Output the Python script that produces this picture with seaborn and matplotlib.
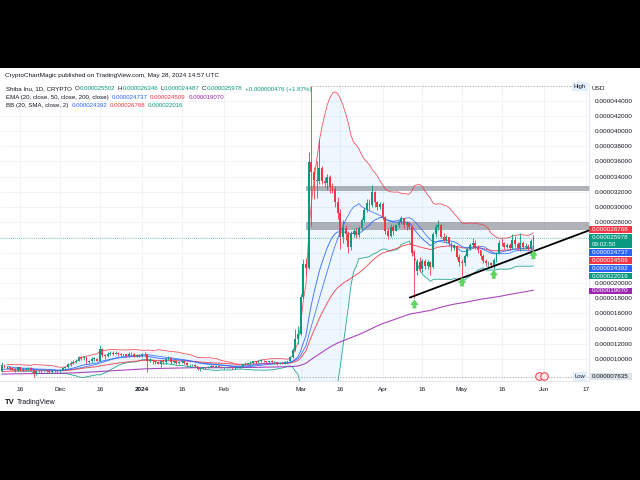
import numpy as np
import pandas as pd
import matplotlib
matplotlib.use("Agg")
import matplotlib.pyplot as plt
from matplotlib.patches import Rectangle
import matplotlib.transforms as mtransforms
import seaborn as sns

# ---------------- data (prices in units of 1e-6 USD), daily candles ----------------
start_date = "2023-11-09"
first_open = 8.4

nov_close = [9.2, 9.0, 8.9, 8.8, 8.7, 8.5, 8.9, 8.6, 8.6, 8.7, 8.8, 8.6, 8.0, 8.4, 8.4, 8.5, 8.5, 8.4, 8.3, 8.4, 8.4, 8.4]
nov_high = [9.6, 9.4, 9.1, 9.0, 8.9, 8.8, 9.0, 9.0, 8.8, 8.8, 8.9, 8.9, 8.7, 8.5, 8.6, 8.6, 8.6, 8.6, 8.5, 8.5, 8.5, 8.5]
nov_low = [8.3, 8.8, 8.7, 8.6, 8.5, 8.3, 8.4, 8.4, 8.4, 8.5, 8.6, 8.5, 7.635, 7.9, 8.3, 8.3, 8.4, 8.3, 8.1, 8.2, 8.3, 8.3]

dec_close = [8.6, 8.8, 8.9, 9.3, 9.5, 9.6, 9.8, 10.2, 10.1, 10.2, 9.6, 9.8, 10.0, 10.0, 9.8, 11.3, 10.5, 10.4, 10.7, 10.8, 10.7, 10.8, 10.6, 10.5, 10.6, 10.4, 10.7, 10.6, 10.4, 10.5, 10.4]
dec_high = [8.7, 8.9, 9.0, 9.5, 9.7, 9.9, 10.0, 10.4, 10.4, 10.4, 10.2, 9.9, 10.2, 10.3, 10.1, 11.8, 11.4, 10.6, 10.9, 11.0, 11.0, 11.0, 10.9, 10.8, 10.7, 10.7, 10.9, 10.9, 10.8, 10.6, 10.6]
dec_low = [8.3, 8.5, 8.7, 8.8, 9.1, 9.3, 9.5, 9.7, 9.9, 9.9, 9.3, 9.5, 9.6, 9.8, 9.7, 9.8, 10.3, 10.0, 10.3, 10.5, 10.5, 10.6, 10.4, 10.4, 10.4, 10.2, 10.3, 10.4, 10.3, 10.3, 10.3]

jan_close = [10.7, 10.6, 9.8, 9.9, 9.7, 9.6, 9.4, 9.8, 9.6, 10.0, 10.1, 9.6, 9.7, 9.5, 9.6, 9.7, 9.5, 9.2, 9.2, 9.2, 9.1, 8.7, 8.8, 8.9, 8.8, 9.0, 9.1, 9.0, 9.1, 9.0, 8.9]
jan_high = [10.8, 10.9, 10.7, 10.1, 10.0, 9.8, 9.7, 9.9, 9.9, 10.1, 10.4, 10.2, 9.8, 9.8, 9.7, 9.8, 9.7, 9.6, 9.3, 9.3, 9.3, 9.1, 8.9, 9.0, 8.9, 9.1, 9.2, 9.2, 9.2, 9.2, 9.1]
jan_low = [10.3, 10.4, 8.3, 9.6, 9.4, 9.4, 9.3, 8.9, 9.4, 9.3, 9.9, 9.4, 9.5, 9.4, 9.4, 9.5, 9.4, 9.1, 8.9, 9.1, 9.0, 8.6, 8.4, 8.7, 8.7, 8.8, 8.9, 8.9, 8.9, 8.9, 8.8]

feb_close = [8.9, 8.9, 8.9, 8.8, 8.8, 8.9, 9.0, 9.3, 9.4, 9.4, 9.5, 9.7, 9.6, 9.8, 9.8, 9.7, 9.6, 9.7, 9.6, 9.6, 9.4, 9.5, 9.4, 9.6, 9.7, 10.2, 11.2, 12.6, 13.3]
feb_high = [9.0, 9.0, 9.0, 8.9, 8.9, 9.0, 9.1, 9.4, 9.6, 9.5, 9.7, 9.8, 9.8, 9.9, 10.0, 9.9, 9.8, 9.8, 9.9, 9.8, 9.6, 9.6, 9.6, 9.7, 9.8, 10.4, 11.4, 13.9, 14.3]
feb_low = [8.7, 8.8, 8.8, 8.7, 8.7, 8.8, 8.8, 9.0, 9.2, 9.3, 9.4, 9.4, 9.4, 9.5, 9.6, 9.6, 9.4, 9.5, 9.5, 9.3, 9.2, 9.3, 9.3, 9.4, 9.5, 9.6, 10.1, 11.0, 12.0]

mar_close = [18.2, 22.5, 22.0, 35.9, 34.6, 33.6, 33.4, 35.1, 33.4, 33.1, 33.9, 32.6, 32.4, 30.6, 29.2, 26.0, 27.2, 26.4, 24.8, 26.4, 26.9, 26.3, 27.2, 28.3, 29.6, 30.5, 30.2, 32.0, 30.6, 30.0, 30.4]
mar_high = [18.6, 23.2, 23.3, 37.2, 45.9, 35.3, 36.0, 39.0, 35.4, 34.0, 34.3, 34.2, 33.2, 32.8, 31.3, 29.8, 28.3, 27.6, 26.8, 26.8, 27.3, 27.4, 27.5, 28.5, 30.0, 31.0, 31.0, 32.9, 32.1, 30.8, 30.7]
mar_low = [13.2, 18.0, 21.0, 21.8, 27.5, 31.0, 31.2, 33.0, 33.0, 32.6, 32.3, 31.8, 31.9, 30.0, 28.4, 24.5, 25.2, 25.6, 23.9, 24.3, 26.0, 25.9, 26.1, 27.0, 28.0, 29.4, 29.6, 30.0, 30.0, 29.6, 29.7]

apr_close = [28.7, 26.9, 26.2, 27.4, 26.9, 27.6, 28.0, 28.5, 27.6, 27.9, 27.4, 24.0, 21.6, 22.8, 21.8, 22.9, 22.2, 22.8, 22.1, 26.5, 27.4, 27.6, 26.1, 25.7, 26.0, 25.2, 24.6, 24.9, 23.4, 22.7]
apr_high = [30.6, 28.8, 27.3, 27.8, 27.6, 27.8, 28.3, 28.8, 28.6, 28.2, 28.1, 27.6, 24.4, 23.2, 23.4, 23.1, 23.1, 23.0, 22.9, 26.7, 27.8, 28.3, 27.8, 26.6, 26.3, 26.1, 25.4, 25.1, 25.0, 23.8]
apr_low = [28.3, 26.4, 25.8, 26.0, 26.3, 26.8, 27.4, 27.8, 27.2, 27.0, 27.1, 23.5, 18.0, 21.0, 21.4, 21.5, 21.9, 21.9, 21.0, 22.0, 26.1, 27.0, 25.9, 25.4, 25.3, 24.9, 24.2, 24.4, 23.1, 22.2]

may_close = [22.6, 23.6, 24.5, 25.0, 25.3, 24.8, 24.3, 23.5, 22.9, 22.6, 22.6, 22.4, 23.0, 23.9, 25.3, 25.2, 24.8, 25.0, 24.6, 25.7, 25.1, 24.6, 25.2, 24.7, 24.9, 24.5, 25.502, 25.978]
may_high = [23.2, 23.8, 24.7, 25.3, 25.9, 25.6, 25.0, 24.4, 23.8, 23.2, 22.9, 22.8, 23.3, 24.1, 25.6, 25.9, 25.4, 25.3, 25.2, 26.4, 26.2, 25.4, 26.6, 25.5, 25.2, 25.1, 25.8, 26.346]
may_low = [20.9, 22.3, 23.4, 24.3, 24.7, 24.5, 24.0, 23.2, 22.6, 22.3, 22.3, 22.2, 21.9, 22.7, 23.8, 24.9, 24.5, 24.6, 24.4, 24.5, 24.8, 24.3, 24.2, 24.5, 24.5, 24.3, 24.4, 24.487]

# indicator starting values read at the left edge of the chart
ema_seeds = {20: 8.55, 50: 8.3, 200: 8.0}

# drawings
zones = [(32.1, 32.8), (27.0, 28.05)]
zone_start = "2024-03-03"
trend_anchors = [("2024-04-11", 18.05), ("2024-06-18", 26.92)]
arrow_dates = ["2024-04-13", "2024-05-01", "2024-05-13", "2024-05-28"]
event_dates = ["2024-05-30", "2024-06-01"]

tick_dates = ["2023-11-16", "2023-12-01", "2023-12-16", "2024-01-01", "2024-01-16", "2024-02-01",
              "2024-03-01", "2024-03-16", "2024-04-01", "2024-04-16", "2024-05-01", "2024-05-16",
              "2024-06-01", "2024-06-17"]
tick_labels = ["16", "Dec", "16", "2024", "16", "Feb", "Mar", "16", "Apr", "16", "May", "16", "Jun", "17"]
price_ticks = [10, 12, 14, 16, 18, 20, 22, 24, 26, 28, 30, 32, 34, 36, 38, 40, 42, 44]
hidden_price_ticks = [22, 24, 26]   # covered by the value badges in the reference

ohlc_text = ["0.000025502", "0.000026346", "0.000024487", "0.000025978", "+0.000000476 (+1.87%)"]
ema_text = ["0.000024737", "0.000024509", "0.000019070"]
bb_text = ["0.000024392", "0.000026768", "0.000022016"]
low_text = "0.000007635"
countdown = "09:02:50"

# ---------------- build series ----------------
close = np.array(nov_close + dec_close + jan_close + feb_close + mar_close + apr_close + may_close)
high = np.array(nov_high + dec_high + jan_high + feb_high + mar_high + apr_high + may_high)
low = np.array(nov_low + dec_low + jan_low + feb_low + mar_low + apr_low + may_low)
n = len(close)
opens = np.r_[first_open, close[:-1]]
x = np.arange(n)
t0 = pd.Timestamp(start_date)


def day(d):
    return (pd.Timestamp(d) - t0).days


def ema(series, span, seed):
    return pd.Series(np.r_[seed, series]).ewm(span=span, adjust=False).mean().to_numpy()[1:]


ema20 = ema(close, 20, ema_seeds[20])
ema50 = ema(close, 50, ema_seeds[50])
ema200 = ema(close, 200, ema_seeds[200])
cs = pd.Series(close)
basis = cs.rolling(20, min_periods=3).mean().to_numpy()
sd = cs.rolling(20, min_periods=3).std(ddof=0).to_numpy()
upper = basis + 2 * sd
lower = basis - 2 * sd

# ---------------- style ----------------
sns.set_theme(style="white")
plt.rcParams['font.family'] = ['Liberation Sans', 'DejaVu Sans']

GREEN = "#089981"
RED = "#f23645"
BLUE = "#2962ff"
PURPLE = "#9c27b0"
DARK = "#131722"
GRID = "#f0f3fa"

W, H = 640, 480
fig = plt.figure(figsize=(6.4, 4.8), dpi=100, facecolor="white")


def fx(px):
    return px / W


def fy(py):
    return 1 - py / H


for top, bot in [(0, 68), (411, 480)]:
    fig.add_artist(Rectangle((0, fy(bot)), 1, (bot - top) / H, transform=fig.transFigure,
                             facecolor="black", edgecolor="none", zorder=0))

AX_L, AX_R, AX_T, AX_B = 0, 589, 83, 381
ax = fig.add_axes([fx(AX_L), fy(AX_B), (AX_R - AX_L) / W, (AX_B - AX_T) / H])
ax.set_facecolor("white")

# pixel scale of the original chart
PX_DAY = 2.645
X_JAN1 = 142.0
jan1 = day("2024-01-01")
xmin = jan1 - (X_JAN1 - AX_L) / PX_DAY
xmax = jan1 + (AX_R - X_JAN1) / PX_DAY
PX_UNIT = 7.6
Y10 = 359.0
ymin = 10 - (AX_B - Y10) / PX_UNIT
ymax = 10 + (Y10 - AX_T) / PX_UNIT
ax.set_xlim(xmin, xmax)
ax.set_ylim(ymin, ymax)

# grid
ax.set_axisbelow(True)
ax.grid(True, color=GRID, linewidth=0.6)

# BB fill
ax.fill_between(x, lower, upper, color="#2196f3", alpha=0.07, linewidth=0, zorder=1)

# zones
zs = day(zone_start)
for lo_, hi_ in zones:
    ax.fill_between([zs, xmax + 2], [lo_, lo_], [hi_, hi_], color="#9598a1", alpha=0.75,
                    linewidth=0, zorder=1.5)

# indicators (seaborn)
for series, colr, lw in [(upper, RED, 0.6), (lower, GREEN, 0.6), (basis, BLUE, 0.6),
                         (ema200, PURPLE, 0.8), (ema50, RED, 0.7), (ema20, BLUE, 0.7)]:
    sns.lineplot(x=x, y=series, ax=ax, color=colr, linewidth=lw, alpha=0.85, zorder=2)

# candles
up = close >= opens
cols = np.where(up, GREEN, RED)
ax.vlines(x, low, high, colors=cols, linewidth=0.6, zorder=3)
ax.bar(x, np.maximum(np.abs(close - opens), 0.07), bottom=np.minimum(opens, close),
       width=0.7, color=cols, linewidth=0, zorder=4)

# high / low / last price lines
ih = int(np.argmax(high))
il = int(np.argmin(low))
ax.hlines(high[ih], ih, xmax, colors="#9598a1", linewidth=0.5, linestyles=(0, (2, 2)), zorder=2)
ax.hlines(low[il], il, xmax, colors="#9598a1", linewidth=0.5, linestyles=(0, (2, 2)), zorder=2)
ax.axhline(close[-1], color=GREEN, linewidth=0.5, linestyle=(0, (1, 2)), zorder=2)

# trend line
tx = [day(d) for d, _ in trend_anchors]
ty = [v for _, v in trend_anchors]
ax.plot(tx, ty, color="black", linewidth=1.3, zorder=5, solid_capstyle="butt")

# arrows under lows
for d in arrow_dates:
    i = day(d)
    tip = low[i] - 0.15
    ax.annotate("", xy=(i, tip), xytext=(i, tip - 1.2),
                arrowprops=dict(arrowstyle="simple,head_length=0.5,head_width=0.75,tail_width=0.35",
                                fc="#5fd65f", ec="none", mutation_scale=8, shrinkA=0, shrinkB=0),
                zorder=6)

# event icons
trans = mtransforms.blended_transform_factory(ax.transData, ax.transAxes)
for d in event_dates:
    ax.scatter([day(d)], [0.017], s=30, marker="o", facecolor="#fde4e7", edgecolor=RED,
               linewidth=0.7, transform=trans, zorder=6, clip_on=False)

# axes ticks
ax.yaxis.tick_right()
ax.set_yticks(price_ticks)
ax.set_yticklabels(["" if v in hidden_price_ticks else f"{v / 1e6:.9f}" for v in price_ticks])
ax.set_xticks([day(d) for d in tick_dates])
ax.set_xticklabels(tick_labels)
ax.tick_params(axis="y", length=0, pad=4, labelsize=4.6, labelcolor=DARK)
ax.tick_params(axis="x", length=0, pad=4, labelsize=4.6, labelcolor=DARK)
for lbl in ax.get_xticklabels():
    if lbl.get_text() == "2024":
        lbl.set_fontweight("bold")
for s in ["top", "left"]:
    ax.spines[s].set_visible(False)
for s in ["right", "bottom"]:
    ax.spines[s].set_color("#e0e3eb")
    ax.spines[s].set_linewidth(0.6)
ax.set_xlabel("")
ax.set_ylabel("")

# ---------------- texts ----------------
fig.text(fx(5), fy(76), "CryptoChartMagic published on TradingView.com, May 28, 2024 14:57 UTC",
         fontsize=4.6, color=DARK, va="center")

renderer = fig.canvas.get_renderer()


def runs(x0, y0, parts, size=4.4):
    xx = x0
    for txt, c, gap in parts:
        t = fig.text(fx(xx), fy(y0), txt, color=c, fontsize=size, va="center", ha="left")
        xx += t.get_window_extent(renderer).width + gap


runs(6, 89, [("Shiba Inu, 1D, CRYPTO", DARK, 3), ("O", DARK, 0.4), (ohlc_text[0], GREEN, 2),
             ("H", DARK, 0.4), (ohlc_text[1], GREEN, 2), ("L", DARK, 0.4), (ohlc_text[2], GREEN, 2),
             ("C", DARK, 0.4), (ohlc_text[3], GREEN, 2.5), (ohlc_text[4], GREEN, 0)])
runs(6, 97.5, [("EMA (20, close, 50, close, 200, close)", DARK, 3), (ema_text[0], BLUE, 2.5),
               (ema_text[1], RED, 2.5), (ema_text[2], PURPLE, 0)])
runs(6, 105.5, [("BB (20, SMA, close, 2)", DARK, 3), (bb_text[0], BLUE, 2.5),
                (bb_text[1], RED, 2.5), (bb_text[2], GREEN, 0)])

fig.text(fx(591), fy(89), "USD", fontsize=4.6, color=DARK, va="center")
fig.text(fx(574), fy(86.5), "High", fontsize=4.2, color=DARK, va="center",
         bbox=dict(boxstyle="square,pad=0.3", fc="#e3eefc", ec="none"))


def pbox(top, bot, color, lines, tcolor="white", x0=589, x1=632):
    fig.add_artist(Rectangle((fx(x0), fy(bot)), (x1 - x0) / W, (bot - top) / H,
                             transform=fig.transFigure, facecolor=color, edgecolor="none", zorder=5))
    step = (bot - top) / len(lines)
    for k, s in enumerate(lines):
        fig.text(fx(x0 + 3), fy(top + step * (k + 0.5)), s, fontsize=4.5, color=tcolor,
                 va="center", ha="left", zorder=6)


pbox(226, 232.8, RED, [bb_text[1]])
pbox(234, 248.3, GREEN, [ohlc_text[3], countdown])
pbox(249.3, 256, BLUE, [ema_text[0]])
pbox(257.3, 264, RED, [ema_text[1]])
pbox(265.3, 271.8, BLUE, [bb_text[0]])
pbox(272.8, 279.4, GREEN, [bb_text[2]])
pbox(287.7, 294.2, PURPLE, [ema_text[2]])
pbox(373, 379.5, "#e0e3eb", [low_text], tcolor=DARK)
fig.text(fx(574.5), fy(376.3), "Low", fontsize=4.2, color=DARK, va="center",
         bbox=dict(boxstyle="square,pad=0.3", fc="#e3eefc", ec="none"))

fig.text(fx(5), fy(402), "TV", fontsize=5.5, color=DARK, va="center", fontweight="bold")
fig.text(fx(17), fy(402), "TradingView", fontsize=5.0, color=DARK, va="center")

fig.savefig("out.png", dpi=100, facecolor="white")
